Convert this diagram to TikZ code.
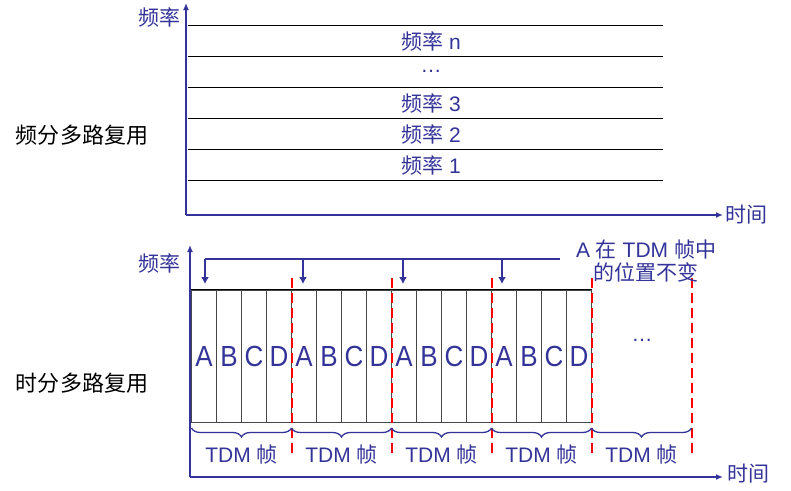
\documentclass[tikz,border=0pt]{standalone}
\usepackage{fontspec}
\setmainfont{Liberation Sans}
\newfontfamily\cjk{Noto Sans CJK SC}
\usetikzlibrary{arrows.meta,decorations.pathreplacing}
\definecolor{navy}{RGB}{51,51,153}
\definecolor{cellgray}{RGB}{70,70,70}

\begin{document}
\begin{tikzpicture}[x=1pt,y=-1pt,
    axis/.style={navy,line width=2.5pt,-{Latex[length=7pt,width=6pt]}},
    lbl/.style={navy,inner sep=0pt,font=\fontsize{21}{23}\selectfont},
    side/.style={black,inner sep=0pt,font=\fontsize{22}{24}\selectfont},
    slot/.style={draw=cellgray,line width=0.9pt,minimum width=25pt,minimum height=132pt,
      inner sep=0pt,text=navy,font=\fontsize{26}{28}\selectfont},
    cut/.style={red,line width=2pt,dash pattern=on 10pt off 5pt},
    frm/.style={navy,line width=1.3pt,decorate,decoration={brace,mirror,amplitude=9pt}},
    brk/.style={navy,line width=2.5pt},
  ]
  \useasboundingbox (0,0) rectangle (791,490);

  % frequency division
  \coordinate (o1) at (186,215);
  \coordinate (fy1) at (186,3);
  \coordinate (fx1) at (723,215);
  \draw[axis] (o1) -- (fy1);
  \draw[axis] (o1) -- (fx1);
  \node[lbl,anchor=east] (freq1) at (181,17) {\cjk 频率};
  \node[lbl] (time1) at (746,215) {\cjk 时间};
  \node[side] (fdm) at (82,135) {\cjk 频分多路复用};
  \foreach \y in {25,56,87,118,149,180}
    \draw[line width=1pt] (188,\y) -- (663,\y);
  \node[lbl] (fn) at (431,41) {{\cjk 频率} n};
  \node[lbl] (fdots) at (431,71) {…};
  \node[lbl] (f3) at (431,103) {{\cjk 频率} 3};
  \node[lbl] (f2) at (431,134) {{\cjk 频率} 2};
  \node[lbl] (f1) at (431,165) {{\cjk 频率} 1};

  % time division
  \coordinate (o2) at (190,477);
  \coordinate (fy2) at (190,245);
  \coordinate (fx2) at (723,477);
  \node[lbl,anchor=east] (freq2) at (181,263) {\cjk 频率};
  \node[lbl] (time2) at (748,474) {\cjk 时间};
  \node[side] (tdm) at (82,383) {\cjk 时分多路复用};
  \foreach \f in {0,...,3}
    \foreach \l [count=\i from 0] in {A,B,C,D}
      \node[slot] (s\f\l) at (204+100*\f+25*\i,356) {\scalebox{1}[1.12]{\l}};
  \draw[line width=1pt] (s0A.north west) -- (s3D.north east);
  \draw[axis] (o2) -- (fy2);
  \draw[axis] (o2) -- (fx2);
  \node[lbl] (sdots) at (642,340) {…};
  \foreach \k in {1,...,5}
    \draw[cut] (191.5+100*\k,278) -- (191.5+100*\k,455);
  \foreach \k in {0,...,4} {
    \draw[frm] (191.5+100*\k,428) -- (291.5+100*\k,428);
    \node[lbl] (frame\k) at (241.5+100*\k,455) {TDM {\cjk 帧}};
  }

  % position of A
  \coordinate (bend) at (560,259);
  \foreach \k/\x in {0/205,1/303,2/403,3/502} {
    \coordinate (top\k) at (\x,259);
    \coordinate (tip\k) at (\x,284);
  }
  \draw[brk] (bend) -- (top0);
  \foreach \k in {0,...,3}
    \draw[brk,-{Latex[length=7pt,width=8pt]}] (top\k) -- (tip\k);
  \node[lbl,align=center] (note) at (646,261) {A {\cjk 在} TDM {\cjk 帧中}\\{\cjk 的位置不变}};
\end{tikzpicture}
\end{document}
